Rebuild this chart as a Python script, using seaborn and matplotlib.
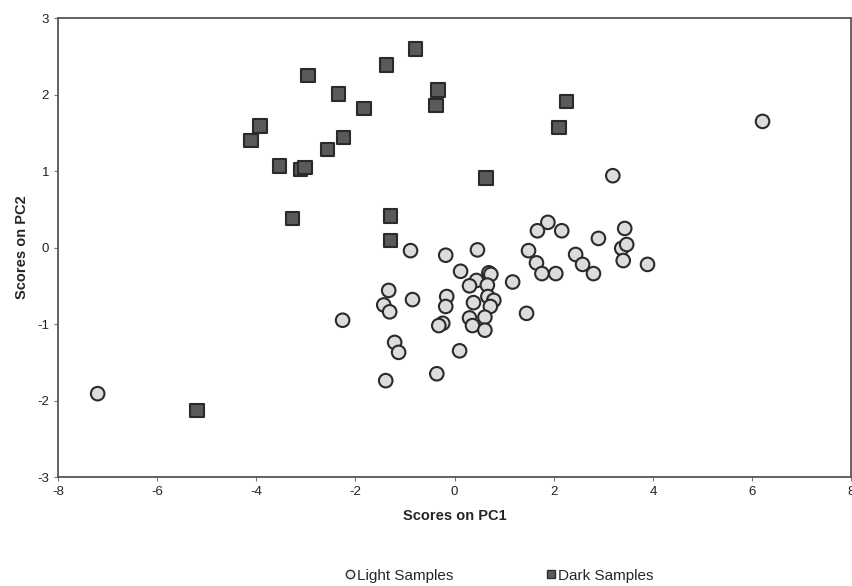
import matplotlib
matplotlib.use("Agg")
import matplotlib.pyplot as plt
from matplotlib.lines import Line2D
import seaborn as sns
import pandas as pd

sns.set_style("white")
plt.rcParams['font.family'] = ['Liberation Sans', 'DejaVu Sans']
plt.rcParams['axes.unicode_minus'] = False

# scores
light_x = [-7.2, 6.21, 3.19, -0.89, -0.18, 0.46, 1.49, 1.88, 1.67, 2.16, 2.44,
           1.65, 1.76, 2.04, 2.58, 2.80, 2.90, 3.43, 3.37, 3.47, 3.40, 3.89,
           0.12, 0.69, 0.73, 0.44, 0.30, 0.66, 1.17, -1.33, -0.85, -0.16, -0.18,
           -1.43, -1.31, 0.38, 0.67, 0.79, 0.72, 0.61, 0.30, 0.36, 0.61, -0.24,
           -0.32, 1.45, -2.26, -1.21, -1.13, 0.10, -1.39, -0.36]
light_y = [-1.91, 1.65, 0.94, -0.04, -0.10, -0.03, -0.04, 0.33, 0.22, 0.22, -0.09,
           -0.20, -0.34, -0.34, -0.22, -0.34, 0.12, 0.25, -0.01, 0.04, -0.17, -0.22,
           -0.31, -0.33, -0.35, -0.43, -0.50, -0.49, -0.45, -0.56, -0.68, -0.64, -0.77,
           -0.75, -0.84, -0.72, -0.64, -0.69, -0.77, -0.91, -0.92, -1.02, -1.08, -0.99,
           -1.02, -0.86, -0.95, -1.24, -1.37, -1.35, -1.74, -1.65]

dark_x = [-0.79, -1.37, -2.96, -2.34, -0.34, -0.38, -1.83, 2.26, 2.10, -3.93, -4.11,
          -2.24, -2.56, -3.53, -3.11, -3.02, 0.63, -3.27, -1.29, -1.29, -5.2]
dark_y = [2.60, 2.39, 2.25, 2.01, 2.06, 1.86, 1.82, 1.91, 1.57, 1.59, 1.40,
          1.44, 1.28, 1.07, 1.02, 1.05, 0.91, 0.38, 0.41, 0.09, -2.13]

groups = ["Light Samples", "Dark Samples"]

df = pd.DataFrame({
    "pc1": light_x + dark_x,
    "pc2": light_y + dark_y,
    "group": [groups[0]] * len(light_x) + [groups[1]] * len(dark_x),
})

fig = plt.figure(figsize=(8.53, 5.86), dpi=100)
ax = fig.add_axes([0.068, 0.186, 0.930, 0.783])

sns.scatterplot(data=df, x="pc1", y="pc2", hue="group", style="group",
                hue_order=groups, style_order=groups,
                palette={"Light Samples": "#dcdcdc", "Dark Samples": "#5a5a5a"},
                markers={"Light Samples": "o", "Dark Samples": "s"},
                s=95, edgecolor="#2a2a2a", linewidth=1.5, legend=False, ax=ax)

ax.set_xlim(-8, 8)
ax.set_ylim(-3, 3)
ax.set_xticks(range(-8, 9, 2))
ax.set_yticks(range(-3, 4))
for sp in ax.spines.values():
    sp.set_color("#555555")
    sp.set_linewidth(1.3)
ax.tick_params(axis="both", which="both", direction="out", length=3, width=0.8,
               color="#777777", labelsize=9.5, labelcolor="#222222",
               bottom=True, left=True)
ax.set_xlabel("Scores on PC1", fontsize=10.5, fontweight="bold", labelpad=8)
ax.set_ylabel("Scores on PC2", fontsize=10.5, fontweight="bold", labelpad=6)

handles = [
    Line2D([], [], marker="o", linestyle="", markersize=6, markerfacecolor="#eeeeee",
           markeredgecolor="#2e2e2e", markeredgewidth=1.0),
    Line2D([], [], marker="s", linestyle="", markersize=6, markerfacecolor="#5a5a5a",
           markeredgecolor="#2e2e2e", markeredgewidth=1.0),
]
fig.legend(handles, groups, loc="lower center", bbox_to_anchor=(0.585, -0.018), ncol=2,
           frameon=False, fontsize=11, handletextpad=0.05, columnspacing=6.0,
           handlelength=0.8)

fig.savefig("out.png", dpi=100)
